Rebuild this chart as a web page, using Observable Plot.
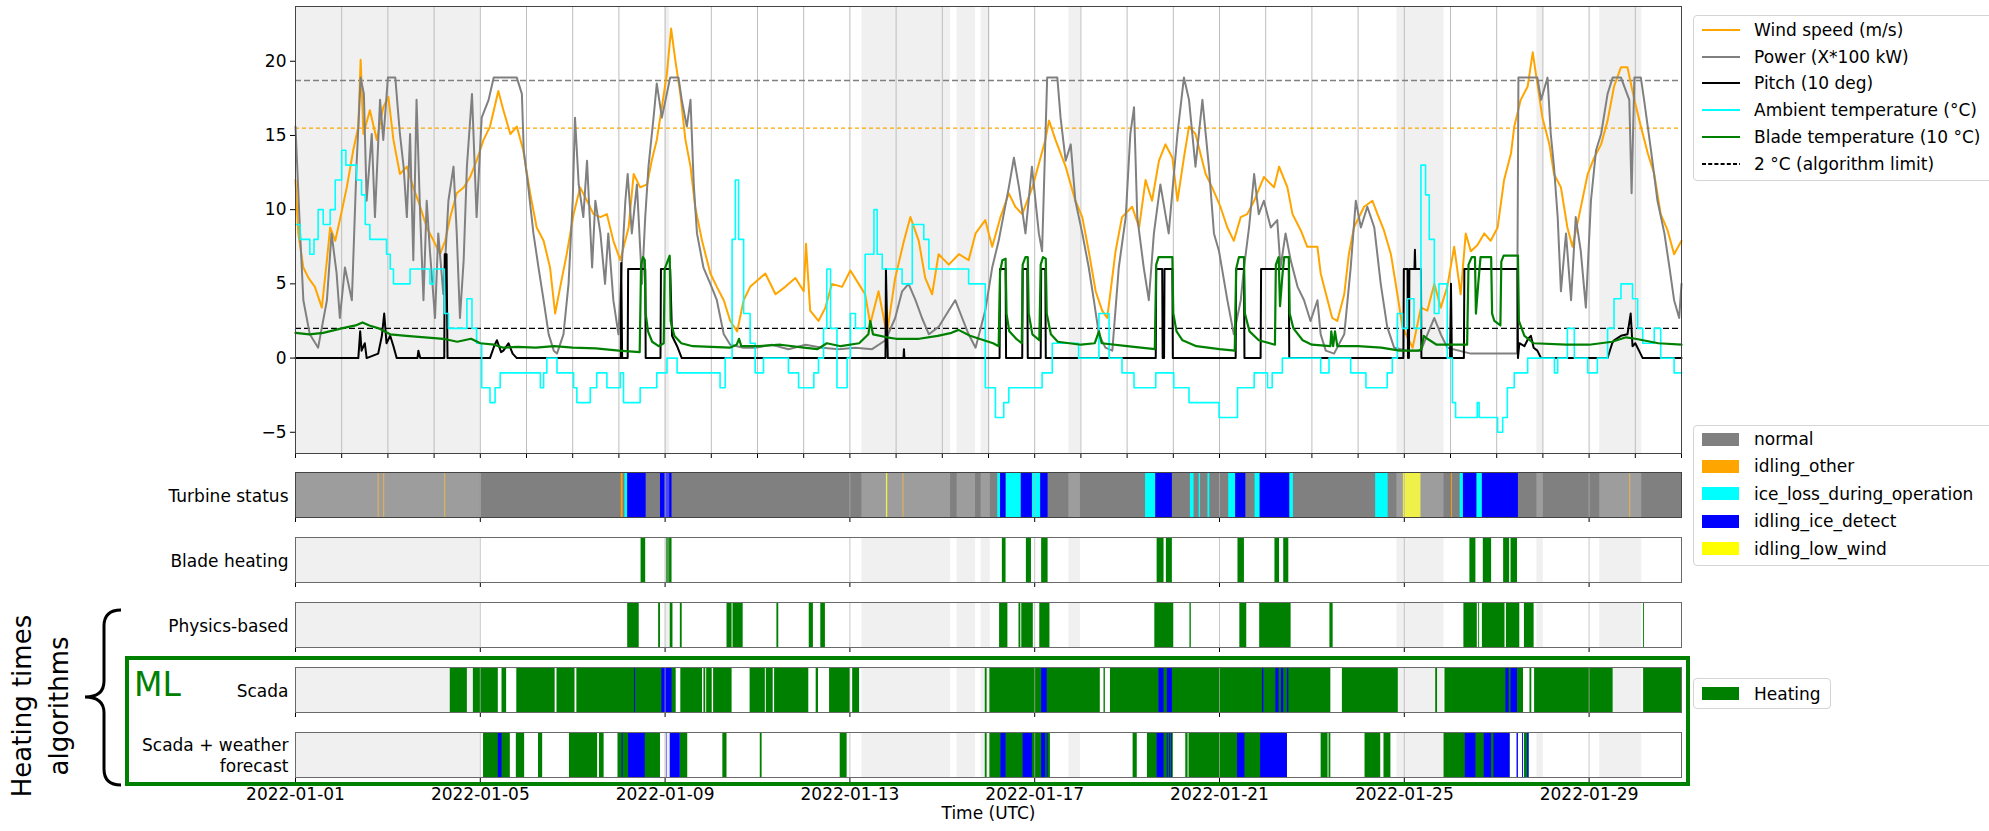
<!DOCTYPE html>
<html><head><meta charset="utf-8">
<script src="https://cdn.jsdelivr.net/npm/d3@7"></script>
<script src="https://cdn.jsdelivr.net/npm/@observablehq/plot@0.6"></script>
<style>
html,body{margin:0;padding:0;background:#fff}
body{width:1989px;height:831px;overflow:hidden;position:relative;font-family:"DejaVu Sans",sans-serif}
.pan{position:absolute;left:0}
.leg{position:absolute;border:1px solid #d4d4d4;border-radius:4px;background:#fff;box-sizing:border-box}
.lt{position:absolute;font-size:17px;line-height:20px;white-space:nowrap;color:#000;font-family:"DejaVu Sans",sans-serif}
</style></head><body>
<script>
// ---------------- DATA (days since 2022-01-01 00:00 UTC) ----------------
const windSpeed = [[0,12.0],[0.06,8.4],[0.17,6.1],[0.28,5.4],[0.42,4.8],[0.57,3.4],[0.68,6.6],[0.75,8.8],[0.86,7.9],[0.96,9.3],[1.11,11.5],[1.25,14.0],[1.36,15.6],[1.41,20.1],[1.47,15.1],[1.61,16.7],[1.76,14.7],[1.90,16.9],[2.01,17.6],[2.12,14.7],[2.26,12.4],[2.41,12.9],[2.55,11.5],[2.70,10.2],[2.84,8.8],[2.99,7.9],[3.13,7.0],[3.24,7.9],[3.35,9.5],[3.49,11.1],[3.64,11.5],[3.78,12.2],[3.92,13.3],[4.07,14.7],[4.21,15.6],[4.39,18.0],[4.50,16.7],[4.65,15.1],[4.79,15.6],[4.93,14.0],[5.08,11.1],[5.22,8.8],[5.37,7.9],[5.51,6.1],[5.62,3.0],[5.73,4.8],[5.87,7.0],[6.02,9.7],[6.16,11.5],[6.31,10.6],[6.45,9.7],[6.60,9.5],[6.74,9.7],[6.88,7.9],[7.03,6.6],[7.21,8.8],[7.32,12.4],[7.46,11.5],[7.61,11.7],[7.71,13.3],[7.82,14.7],[7.93,16.9],[8.04,19.2],[8.13,22.2],[8.22,20.1],[8.33,17.8],[8.44,14.7],[8.55,12.9],[8.65,10.2],[8.80,7.9],[8.98,5.7],[9.12,4.8],[9.27,3.9],[9.41,2.5],[9.56,1.8],[9.70,3.9],[9.84,4.8],[10.17,5.7],[10.39,4.3],[10.60,4.8],[10.82,5.4],[11.0,4.5],[11.05,7.7],[11.14,3.2],[11.32,2.5],[11.47,3.4],[11.61,5.0],[11.83,4.8],[12.01,5.9],[12.19,5.0],[12.33,4.3],[12.44,2.3],[12.62,4.5],[12.80,1.6],[12.98,5.4],[13.17,7.9],[13.31,9.5],[13.49,7.9],[13.63,5.4],[13.78,4.3],[13.92,7.0],[14.14,6.3],[14.36,7.0],[14.57,6.6],[14.72,8.4],[14.93,9.3],[15.08,7.5],[15.26,9.5],[15.44,11.1],[15.58,10.2],[15.73,9.7],[15.95,11.5],[16.09,13.1],[16.23,14.7],[16.31,16.0],[16.45,14.7],[16.67,12.9],[16.88,10.6],[17.03,9.5],[17.17,7.2],[17.32,4.5],[17.46,3.2],[17.57,2.7],[17.75,7.2],[17.89,9.5],[18.11,10.2],[18.26,8.8],[18.40,12.0],[18.54,10.6],[18.69,13.3],[18.83,14.4],[18.98,13.5],[19.09,10.6],[19.23,13.5],[19.34,15.6],[19.48,15.1],[19.70,12.4],[19.84,11.5],[20.02,10.2],[20.17,8.8],[20.31,7.9],[20.46,9.5],[20.60,9.7],[20.75,10.6],[20.96,12.2],[21.18,11.5],[21.29,12.9],[21.47,11.5],[21.58,9.7],[21.76,8.6],[21.90,7.5],[22.12,7.5],[22.19,5.7],[22.34,3.9],[22.44,2.7],[22.55,2.5],[22.70,4.3],[22.80,7.0],[22.91,8.8],[23.13,10.2],[23.31,10.6],[23.42,9.7],[23.56,8.6],[23.71,7.0],[23.85,4.3],[23.96,2.1],[24.18,0.7],[24.36,3.4],[24.50,3.2],[24.65,5.0],[24.79,3.4],[24.93,4.8],[25.08,7.5],[25.22,4.3],[25.33,8.4],[25.44,7.2],[25.58,7.6],[25.73,8.4],[25.87,7.9],[26.02,8.8],[26.16,12.0],[26.31,13.8],[26.38,15.6],[26.52,17.4],[26.67,18.3],[26.78,20.6],[26.88,18.5],[26.99,16.2],[27.14,14.4],[27.24,12.4],[27.39,11.5],[27.53,8.8],[27.64,7.5],[27.79,9.7],[27.97,12.4],[28.11,13.5],[28.26,14.4],[28.40,16.0],[28.54,18.3],[28.69,19.6],[28.83,19.6],[28.98,17.4],[29.12,15.6],[29.27,13.8],[29.41,12.4],[29.55,9.7],[29.70,8.6],[29.84,7.0],[30.0,7.9]];
const powerX100kW = [[0,15.6],[0.10,8.4],[0.17,3.9],[0.31,1.6],[0.49,0.7],[0.68,3.9],[0.78,8.4],[0.89,5.7],[0.96,2.7],[1.07,6.1],[1.22,3.9],[1.32,12.9],[1.41,18.9],[1.48,17.8],[1.54,10.6],[1.65,15.1],[1.72,9.5],[1.83,17.4],[1.90,14.7],[2.0,18.9],[2.16,18.9],[2.26,15.1],[2.34,12.9],[2.41,9.5],[2.48,15.1],[2.55,6.6],[2.62,17.4],[2.70,9.5],[2.77,3.9],[2.84,10.6],[2.91,7.2],[3.02,2.7],[3.09,8.4],[3.20,4.3],[3.31,10.6],[3.42,12.9],[3.49,8.4],[3.56,2.7],[3.64,6.6],[3.71,12.9],[3.82,17.8],[3.92,9.5],[4.03,16.2],[4.18,17.4],[4.29,18.9],[4.79,18.9],[4.90,17.8],[4.94,14.0],[5.04,11.5],[5.15,8.4],[5.26,6.1],[5.37,3.9],[5.48,1.6],[5.59,0.5],[5.66,0.3],[5.80,1.6],[5.91,5.0],[6.00,10.6],[6.05,16.2],[6.13,11.7],[6.23,9.5],[6.31,13.3],[6.42,6.1],[6.49,10.6],[6.60,8.4],[6.70,5.0],[6.77,8.4],[6.88,3.9],[6.99,1.6],[7.06,6.1],[7.14,10.6],[7.19,12.4],[7.28,8.4],[7.39,11.7],[7.50,5.0],[7.57,9.5],[7.64,12.9],[7.75,16.2],[7.82,18.5],[7.93,16.2],[8.11,18.9],[8.29,18.9],[8.36,17.4],[8.47,15.6],[8.55,17.4],[8.62,11.7],[8.69,8.4],[8.83,6.1],[8.98,5.0],[9.12,3.9],[9.27,1.6],[9.41,0.9],[9.70,0.7],[9.95,0.7],[10.31,0.9],[10.67,0.6],[11.04,0.9],[11.40,0.7],[11.76,0.6],[12.12,0.7],[12.48,0.6],[12.77,1.2],[12.98,2.7],[13.13,4.5],[13.27,5.0],[13.42,3.9],[13.56,2.7],[13.71,1.6],[13.92,2.1],[14.14,3.2],[14.28,3.9],[14.43,2.7],[14.57,1.6],[14.72,0.7],[14.93,3.2],[15.08,6.1],[15.22,7.9],[15.44,11.5],[15.55,13.5],[15.66,11.5],[15.80,8.4],[15.94,12.9],[16.09,8.4],[16.16,7.2],[16.27,18.9],[16.49,18.9],[16.56,16.2],[16.67,13.3],[16.78,14.4],[16.88,10.6],[17.03,8.4],[17.17,6.1],[17.28,3.9],[17.39,1.6],[17.53,0.7],[17.68,0.5],[17.82,6.1],[17.97,9.5],[18.07,15.1],[18.15,16.9],[18.22,9.5],[18.36,6.1],[18.47,3.9],[18.58,8.4],[18.72,11.7],[18.90,8.4],[19.09,15.1],[19.23,18.9],[19.34,17.4],[19.48,12.9],[19.63,17.4],[19.77,12.9],[19.88,8.4],[19.99,7.2],[20.17,3.9],[20.31,1.6],[20.46,3.9],[20.53,6.1],[20.64,8.8],[20.75,12.4],[20.85,9.7],[20.96,10.6],[21.11,8.8],[21.25,9.3],[21.32,6.1],[21.43,8.4],[21.54,6.6],[21.69,4.8],[21.83,3.9],[21.97,2.5],[22.12,3.9],[22.19,1.6],[22.30,0.5],[22.48,0.3],[22.70,1.6],[22.84,6.1],[22.95,10.6],[23.06,8.8],[23.20,10.2],[23.35,8.8],[23.49,5.0],[23.63,2.1],[23.78,0.7],[24.07,0.5],[24.36,0.5],[24.50,1.6],[24.65,2.7],[24.79,1.6],[24.93,0.7],[25.44,0.3],[26.16,0.3],[26.44,0.3],[26.47,18.9],[26.88,18.9],[26.96,17.4],[27.10,18.9],[27.17,15.1],[27.24,12.9],[27.32,9.5],[27.39,4.5],[27.50,8.4],[27.61,3.9],[27.71,9.5],[27.82,7.2],[27.93,3.4],[28.04,10.6],[28.15,14.0],[28.26,15.1],[28.40,17.8],[28.51,18.9],[28.69,18.9],[28.87,17.4],[28.92,11.1],[28.98,18.9],[29.12,18.9],[29.19,17.4],[29.34,14.0],[29.48,10.6],[29.63,8.4],[29.74,6.1],[29.84,3.9],[29.95,2.7],[30.0,5.0]];
const pitch10deg = [[0,0],[1.36,0],[1.40,1.8],[1.43,0.5],[1.50,1.0],[1.54,0],[1.79,0.3],[1.87,1.5],[1.92,3.0],[1.97,1.0],[2.05,1.5],[2.12,0.8],[2.19,0],[2.64,0],[2.66,0.5],[2.70,0],[3.22,0],[3.23,7],[3.27,7],[3.29,0],[4.21,0],[4.30,0.8],[4.36,1.2],[4.45,0.4],[4.50,0.5],[4.61,1.0],[4.70,0.3],[4.79,0],[7.04,0],[7.05,6.4],[7.07,0],[7.19,0],[7.20,6],[7.57,6],[7.58,0],[7.90,0],[7.91,6],[8.11,6],[8.15,1.5],[8.26,0.8],[8.36,0],[12.77,0],[12.78,6],[12.82,0],[13.16,0],[13.17,0.6],[13.18,0],[15.24,0],[15.25,6],[15.37,6],[15.38,0],[15.73,0],[15.74,6],[15.84,6],[15.85,0],[16.13,0],[16.14,6],[16.23,6],[16.24,0],[18.62,0],[18.63,6],[18.76,6],[18.77,0],[18.80,0],[18.81,6],[18.98,6],[18.99,0],[20.35,0],[20.36,6],[20.53,6],[20.54,0],[20.89,0],[20.90,6],[21.50,6],[21.51,0],[23.98,0],[23.99,6],[24.07,6],[24.08,0],[24.10,0],[24.11,6],[24.22,6],[24.23,7.3],[24.24,6],[24.36,6],[24.37,0],[24.99,0],[25.01,5],[25.03,0],[25.29,0],[25.30,6],[26.45,6],[26.46,0],[26.49,1.0],[26.60,0.8],[26.68,1.3],[26.74,1.5],[26.80,0.7],[26.88,0.5],[26.96,0],[28.40,0],[28.50,1.0],[28.54,1.2],[28.69,1.5],[28.83,1.6],[28.90,3.0],[28.94,0.8],[29.00,1.0],[29.08,0.5],[29.16,0],[30,0]];
const ambientTemp = [[0,9],[0.10,8],[0.31,7],[0.40,8],[0.49,10],[0.60,9],[0.75,10],[0.86,12],[1.0,14],[1.09,13],[1.32,12],[1.43,11],[1.51,9],[1.61,8],[1.97,7],[2.05,6],[2.12,5],[2.48,6],[2.91,5],[2.99,6],[3.22,3],[3.31,2],[3.71,4],[3.82,2],[3.92,1],[4.03,-2],[4.21,-3],[4.32,-2],[4.43,-1],[5.30,-2],[5.37,-1],[5.44,0],[5.66,-1],[6.02,-2],[6.09,-3],[6.38,-2],[6.52,-1],[6.74,-2],[7.03,-1],[7.10,-3],[7.46,-2],[7.82,-1],[8.04,0],[8.26,-1],[9.19,-2],[9.30,0],[9.45,8],[9.52,12],[9.59,8],[9.70,3],[9.84,1],[9.95,-1],[10.13,0],[10.67,-1],[10.89,-2],[11.22,-1],[11.32,0],[11.43,2],[11.50,6],[11.58,2],[11.72,-2],[11.94,0],[12.01,3],[12.12,2],[12.33,7],[12.52,10],[12.59,7],[12.70,6],[13.13,5],[13.35,9],[13.60,8],[13.71,6],[14.57,5],[14.93,-2],[15.15,-4],[15.33,-3],[15.44,-2],[16.16,-1],[16.38,1],[16.95,0],[17.39,3],[17.61,0],[17.89,-1],[18.15,-2],[18.62,-1],[19.01,-2],[19.34,-3],[19.99,-4],[20.39,-2],[20.75,-1],[21.04,-2],[21.14,-1],[21.36,0],[22.19,-1],[22.37,0],[22.84,-1],[23.17,-2],[23.63,-1],[23.74,0],[23.85,3],[23.96,2],[24.07,4],[24.21,2],[24.36,13],[24.46,11],[24.54,8],[24.65,3],[24.75,5],[24.93,0],[25.04,-3],[25.11,-4],[25.58,-3],[25.62,-4],[26.02,-5],[26.13,-4],[26.23,-2],[26.38,-1],[26.67,0],[27.25,-1],[27.32,0],[27.53,2],[27.68,0],[27.97,-1],[28.18,0],[28.40,2],[28.54,4],[28.69,5],[28.94,4],[29.05,2],[29.16,1],[29.41,2],[29.55,0],[29.84,-1],[30,-1]];
const bladeTemp10C = [[0,1.7],[0.3,1.6],[0.6,1.7],[1.0,2.0],[1.3,2.2],[1.45,2.4],[1.6,2.2],[1.8,2.0],[2.05,1.6],[2.4,1.5],[2.8,1.4],[3.2,1.3],[3.5,1.1],[3.8,1.3],[4.0,1.0],[4.3,0.9],[4.5,0.7],[4.8,0.75],[5.2,0.7],[5.6,0.8],[6.0,0.7],[6.5,0.65],[7.0,0.5],[7.45,0.4],[7.48,6.3],[7.52,6.8],[7.56,6.6],[7.58,3.0],[7.63,1.8],[7.72,1.1],[7.86,0.8],[7.97,1.0],[7.99,6.0],[8.05,6.5],[8.10,6.9],[8.12,2.5],[8.2,1.5],[8.35,1.0],[8.6,0.8],[9.0,0.75],[9.4,0.7],[9.55,0.9],[9.6,1.3],[9.65,0.8],[10.0,0.8],[10.5,0.9],[11.0,0.7],[11.3,0.6],[11.5,1.0],[11.8,0.8],[12.2,1.0],[12.4,1.6],[12.44,2.5],[12.5,1.6],[12.8,1.4],[13.0,1.3],[13.5,1.3],[13.9,1.5],[14.2,1.7],[14.35,1.9],[14.6,1.5],[14.9,1.2],[15.1,1.0],[15.22,0.8],[15.25,5.8],[15.3,6.6],[15.37,6.7],[15.39,3.0],[15.45,1.8],[15.6,1.3],[15.72,1.0],[15.74,6.3],[15.8,6.8],[15.85,6.8],[15.87,3.0],[15.95,1.6],[16.1,1.2],[16.13,6.3],[16.18,6.8],[16.24,6.7],[16.26,3.0],[16.35,1.6],[16.5,1.1],[17.0,0.9],[17.3,1.0],[17.39,1.8],[17.45,1.0],[18.0,0.8],[18.3,0.7],[18.6,0.6],[18.63,6.3],[18.68,6.8],[18.98,6.8],[19.0,3.0],[19.07,1.8],[19.2,1.2],[19.5,0.8],[20.0,0.6],[20.33,0.5],[20.36,6.0],[20.42,6.8],[20.53,6.8],[20.55,3.0],[20.65,1.8],[20.85,1.2],[21.2,0.9],[21.22,6.3],[21.28,6.8],[21.31,3.5],[21.36,5.5],[21.4,6.8],[21.5,6.8],[21.52,3.0],[21.6,2.0],[21.8,1.2],[22.0,0.9],[22.4,0.8],[22.42,1.8],[22.46,0.8],[22.5,1.8],[22.55,0.8],[23.0,0.8],[23.5,0.7],[23.9,0.5],[24.3,0.5],[24.37,0.6],[24.42,1.5],[24.5,1.3],[24.7,0.9],[25.0,0.9],[25.36,0.9],[25.39,6.3],[25.46,6.8],[25.53,6.8],[25.55,3.0],[25.6,5.0],[25.65,6.8],[25.88,6.8],[25.9,3.0],[25.95,2.5],[26.08,2.2],[26.1,6.5],[26.15,6.9],[26.46,6.9],[26.48,2.5],[26.6,1.5],[26.8,1.0],[27.5,0.9],[28.0,0.9],[28.5,1.1],[28.8,1.4],[29.0,1.3],[29.5,1.0],[30.0,0.9]];
const ratedPower = 18.7, ratedWind = 15.5, algorithmLimit = 2;
const shadedSpans = [[0,4.0],[8.0,8.1],[12.26,14.18],[14.32,14.72],[14.84,15.04],[16.74,16.99],[23.84,24.86],[26.87,27.01],[28.23,29.14]];

const statusNormal = [[0,30]];
const statusIdlingOther = [[1.79,1.81],[1.91,1.93],[3.23,3.25],[7.05,7.09],[13.15,13.17],[24.03,24.05],[24.12,24.14],[25.02,25.04],[28.88,28.90]];
const statusIceLoss = [[7.13,7.19],[15.20,15.26],[15.38,15.71],[15.95,16.13],[18.40,18.62],[19.37,19.45],[19.56,19.59],[19.75,19.79],[20.20,20.35],[20.77,20.88],[21.52,21.60],[23.38,23.65],[25.21,25.28],[25.57,25.69]];
const statusIceDetect = [[7.19,7.59],[7.90,8.15],[15.26,15.38],[15.71,15.95],[16.13,16.29],[18.62,18.98],[20.35,20.57],[20.88,21.52],[25.28,25.57],[25.69,26.47]];
const statusLowWind = [[12.79,12.82],[23.98,24.36]];

const bladeHeating = [[7.48,7.58],[8.03,8.15],[15.30,15.38],[15.82,15.93],[16.15,16.29],[18.65,18.80],[18.85,18.98],[20.40,20.54],[21.20,21.30],[21.39,21.50],[25.42,25.55],[25.71,25.89],[26.15,26.28],[26.31,26.45]];
const physicsHeating = [[7.19,7.44],[7.86,7.90],[8.11,8.17],[8.33,8.37],[9.34,9.45],[9.47,9.69],[10.42,10.46],[11.12,11.21],[11.37,11.47],[15.24,15.42],[15.66,15.70],[15.72,15.97],[16.11,16.33],[18.60,19.01],[19.36,19.39],[20.44,20.59],[20.87,21.55],[22.39,22.46],[25.29,25.58],[25.61,25.63],[25.69,26.18],[26.21,26.50],[26.60,26.81],[29.18,29.20]];
const scadaHeating = [[3.35,3.72],[3.85,4.39],[4.47,4.57],[4.79,5.62],[5.66,6.05],[6.09,8.24],[8.34,8.81],[8.84,8.88],[8.90,9.02],[9.05,9.45],[9.84,10.17],[10.19,10.34],[10.37,11.11],[11.27,11.32],[11.56,12.01],[12.06,12.21],[14.93,14.97],[15.03,17.42],[17.50,17.53],[17.64,22.41],[22.66,23.87],[24.68,24.72],[24.88,26.58],[26.72,26.76],[26.82,28.52],[29.18,30.0]];
const scadaIceDetect = [[7.34,7.36],[7.93,8.15],[16.15,16.27],[18.69,18.80],[18.87,18.98],[20.93,20.96],[21.22,21.29],[21.34,21.39],[21.47,21.50],[26.20,26.27],[26.31,26.45]];
const weatherHeating = [[4.07,4.65],[4.78,4.96],[5.26,5.35],[5.93,6.54],[6.58,6.68],[6.98,7.90],[8.33,8.49],[9.25,9.34],[10.06,10.10],[11.79,11.94],[14.93,14.97],[15.03,16.34],[18.13,18.22],[18.44,19.00],[19.27,19.32],[19.34,21.47],[22.20,22.35],[22.37,22.41],[23.15,23.49],[23.56,23.71],[24.86,26.29],[26.60,26.70]];
const weatherIceDetect = [[4.39,4.47],[7.07,7.09],[7.21,7.57],[8.03,8.04],[8.11,8.33],[15.27,15.38],[15.75,15.95],[16.15,16.24],[16.27,16.29],[18.65,18.80],[18.87,18.89],[18.92,18.94],[18.96,18.98],[20.39,20.55],[20.89,21.47],[25.32,25.55],[25.73,25.89],[25.94,26.29],[26.44,26.47],[26.56,26.58],[26.67,26.70]];

const rowLabels = ["Turbine status","Blade heating","Physics-based","Scada","Scada + weather\nforecast"];
const lineLegendLabels = ["Wind speed (m/s)","Power (X*100 kW)","Pitch (10 deg)","Ambient temperature (°C)","Blade temperature (10 °C)","2 °C (algorithm limit)"];
const statusLegendLabels = ["normal","idling_other","ice_loss_during_operation","idling_ice_detect","idling_low_wind"];
const heatingLegendLabel = "Heating";

// ---------------- helpers ----------------
const D0 = Date.UTC(2022,0,1);
const dt = d => new Date(D0 + d*864e5);
const X0 = dt(0), X1 = dt(30);
const W = 1989, ML = 295, MR = 1989 - 1681;
const dailyTicks = d3.range(0,31).map(dt);
const tick4 = d3.range(0,29,4).map(dt);
const C = {wind:"#ffa500", power:"#808080", pitch:"#000000", amb:"#00ffff", blade:"#008000",
  normal:"#808080", other:"#ffa500", iceLoss:"#00ffff", iceDetect:"#0000ff", lowWind:"#ffff00", heat:"#008000"};
const font = {fontFamily:"DejaVu Sans, sans-serif", fontSize:"17px", background:"transparent", overflow:"visible", color:"#000"};

function place(el, top){ const d=document.createElement("div"); d.className="pan"; d.style.top=top+"px"; d.appendChild(el); document.body.appendChild(d); }

const lineOf = (data, stroke, w, extra={}) => Plot.line(data, {x: d=>dt(d[0]), y: d=>d[1], stroke, strokeWidth: w, strokeLinejoin:"round", ...extra});
const rectsOf = (data, fill, extra={}) => Plot.rect(data, {x1: d=>dt(d[0]), x2: d=>dt(d[1]), fill, ...extra});
const shade = () => rectsOf(shadedSpans, "#d3d3d3", {fillOpacity: 0.35});

// ---------------- main panel ----------------
place(Plot.plot({
  width: W, height: 462, marginLeft: ML, marginRight: MR, marginTop: 6, marginBottom: 9,
  style: font,
  x: {type:"utc", domain:[X0,X1], ticks: dailyTicks, tickFormat: () => "", tickSize: 5, label: null},
  y: {domain:[-6.43, 23.69], ticks:[-5,0,5,10,15,20], tickSize: 5, tickPadding: 4, label: null},
  marks: [
    shade(),
    Plot.ruleX(dailyTicks.slice(1,-1), {stroke:"#bdbdbd", strokeWidth: 1}),
    Plot.ruleY([ratedPower], {stroke:"#808080", strokeDasharray:"6,3", strokeWidth:1.4}),
    Plot.ruleY([ratedWind], {stroke:"#ffa500", strokeDasharray:"4,3", strokeWidth:1.2}),
    Plot.ruleY([algorithmLimit], {stroke:"#000", strokeDasharray:"6,3", strokeWidth:1.4}),
    lineOf(windSpeed, C.wind, 2),
    lineOf(powerX100kW, C.power, 2),
    lineOf(pitch10deg, C.pitch, 2),
    lineOf(ambientTemp, C.amb, 1.6, {curve:"step-after"}),
    lineOf(bladeTemp10C, C.blade, 2.2),
    Plot.frame({stroke:"#444"})
  ]
}), 0);

// ---------------- bar panels ----------------
function barPanel(label, top, below, above, opts={}){
  const last = !!opts.last;
  const marks = [
    ...(opts.shadeBelow ? [shade()] : []),
    ...below,
    ...(opts.shadeBelow ? [] : [shade()]),
    Plot.ruleX(tick4.slice(1), {stroke:"#b0b0b0", strokeOpacity: 0.7}),
    ...above,
    Plot.frame({stroke: opts.frame || "#6a6a6a"}),
    Plot.text([label], {text: d=>d, frameAnchor:"left", textAnchor:"end", dx:-7, fontSize:17, lineHeight:1.24})
  ];
  if (last) marks.push(Plot.text(["Time (UTC)"], {text:d=>d, frameAnchor:"bottom", dy:41, fontSize:17}));
  place(Plot.plot({
    width: W, height: last ? 100 : 54, marginLeft: ML, marginRight: MR, marginTop: 1, marginBottom: last ? 54 : 8,
    style: font,
    x: {type:"utc", domain:[X0,X1], ticks: tick4, tickSize: 5, tickPadding: 5,
        tickFormat: last ? d3.utcFormat("%Y-%m-%d") : () => "", label: null},
    marks
  }), top);
}

barPanel(rowLabels[0], 471, [
  rectsOf(statusNormal, C.normal),
  rectsOf(statusIdlingOther, C.other),
  rectsOf(statusIceLoss, C.iceLoss),
  rectsOf(statusIceDetect, C.iceDetect),
  rectsOf(statusLowWind, C.lowWind)
], [], {frame:"#444"});
barPanel(rowLabels[1], 536, [rectsOf(bladeHeating, C.heat)], []);
barPanel(rowLabels[2], 601, [rectsOf(physicsHeating, C.heat)], []);
barPanel(rowLabels[3], 666, [rectsOf(scadaHeating, C.heat), rectsOf(scadaIceDetect, C.iceDetect)], [], {shadeBelow:true});
barPanel(rowLabels[4], 731, [rectsOf(weatherHeating, C.heat), rectsOf(weatherIceDetect, C.iceDetect)], [], {shadeBelow:true, last:true});

// ---------------- annotations ----------------
const NS = "http://www.w3.org/2000/svg";
const ov = document.createElementNS(NS, "svg");
ov.setAttribute("width", W); ov.setAttribute("height", 831);
ov.style.cssText = "position:absolute;left:0;top:0;pointer-events:none";
ov.innerHTML = `
  <rect x="127" y="658" width="1561" height="126" fill="none" stroke="#008000" stroke-width="4"/>
  <text x="134" y="696" fill="#008000" font-family="DejaVu Sans, sans-serif" font-size="33">ML</text>
  <path d="M121 610 Q104 610 104 626 L104 681 Q104 697 85 697 Q104 697 104 713 L104 769 Q104 785 121 785" fill="none" stroke="#000" stroke-width="3"/>
  <text transform="translate(22,706) rotate(-90)" text-anchor="middle" dominant-baseline="central" font-family="DejaVu Sans, sans-serif" font-size="26" fill="#000">Heating times</text>
  <text transform="translate(59,706) rotate(-90)" text-anchor="middle" dominant-baseline="central" font-family="DejaVu Sans, sans-serif" font-size="26" fill="#000">algorithms</text>`;
document.body.appendChild(ov);

// ---------------- legends ----------------
function box(l,t,w,h){ const d=document.createElement("div"); d.className="leg"; Object.assign(d.style,{left:l+"px",top:t+"px",width:w+"px",height:h+"px"}); document.body.appendChild(d); }
function txt(s,l,cy){ const d=document.createElement("div"); d.className="lt"; d.textContent=s; Object.assign(d.style,{left:l+"px",top:(cy-10)+"px"}); document.body.appendChild(d); }
function sw(html,l,t,w,h){ const s=document.createElementNS(NS,"svg"); s.setAttribute("width",w); s.setAttribute("height",h); s.style.cssText=`position:absolute;left:${l}px;top:${t}px`; s.innerHTML=html; document.body.appendChild(s); }

box(1693, 15, 300, 166);
const lineCols = [C.wind, C.power, C.pitch, C.amb, C.blade, "#000"];
lineLegendLabels.forEach((s,i)=>{
  const cy = 30 + i*26.7;
  sw(`<line x1="0" y1="5" x2="38" y2="5" stroke="${lineCols[i]}" stroke-width="2" ${i===5?'stroke-dasharray="4,2.2"':''}/>`, 1702, cy-5, 38, 10);
  txt(s, 1754, cy);
});

box(1693, 425, 300, 141);
const statCols = [C.normal, C.other, C.iceLoss, C.iceDetect, C.lowWind];
statusLegendLabels.forEach((s,i)=>{
  const cy = 439 + i*27.4;
  sw(`<rect x="0" y="0" width="37" height="13" fill="${statCols[i]}"/>`, 1702, cy-6.5, 37, 13);
  txt(s, 1754, cy);
});

box(1693, 678, 138, 31);
sw(`<rect x="0" y="0" width="37" height="13" fill="${C.heat}"/>`, 1702, 687, 37, 13);
txt(heatingLegendLabel, 1754, 693.5);
</script>
</body></html>
